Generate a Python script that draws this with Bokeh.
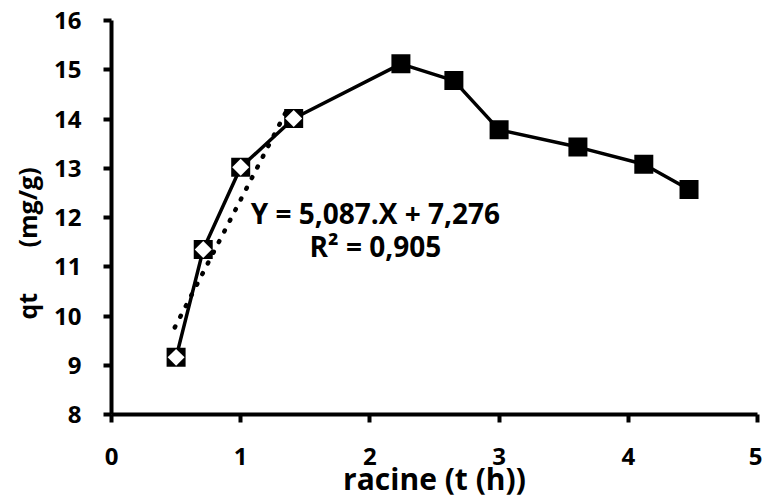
import math
from bokeh.plotting import figure
from bokeh.models import Label, FixedTicker
from bokeh.embed import file_html
from bokeh.resources import INLINE

# ---- data ----
sqrt_t = [0.50, 0.71, 1.00, 1.41, 2.24, 2.65, 3.00, 3.61, 4.12, 4.47]
qt = [9.16, 11.35, 13.02, 14.01, 15.12, 14.78, 13.78, 13.43, 13.08, 12.57]
fit_count = 4                      # first points used for the linear fit
slope = 5.087
intercept = 7.276
trend_x = [0.49, 1.38]
trend_y = [slope * x + intercept for x in trend_x]
x_ticks = [0, 1, 2, 3, 4, 5]
y_ticks = [8, 9, 10, 11, 12, 13, 14, 15, 16]
eq_text = "Y = 5,087.X + 7,276"
r2_text = "R\u00b2 = 0,905"
x_label = "racine (t (h))"
y_label = "qt" + "\u00a0" * 7 + "(mg/g)" + "\u00a0" * 8

FONT = "Open Sans"

p = figure(width=762, height=501, x_range=(0, 5), y_range=(8, 16),
           output_backend="svg", toolbar_location=None,
           min_border_left=111, min_border_right=5,
           min_border_top=20, min_border_bottom=87)
p.outline_line_color = None
p.grid.visible = False
p.background_fill_color = "white"
p.border_fill_color = "white"

for ax, ticks in ((p.xaxis[0], x_ticks), (p.yaxis[0], y_ticks)):
    ax.ticker = FixedTicker(ticks=ticks)
    ax.minor_tick_line_color = None
    ax.axis_line_width = 4
    ax.axis_line_color = "black"
    ax.major_tick_line_width = 4
    ax.major_tick_line_color = "black"
    ax.major_tick_in = 0
    ax.major_tick_out = 8
    ax.major_label_text_font = FONT
    ax.major_label_text_font_style = "bold"
    ax.major_label_text_font_size = "24px"
    ax.major_label_text_color = "black"
    ax.axis_label_text_font = FONT
    ax.axis_label_text_font_style = "bold"
    ax.axis_label_text_color = "black"
p.xaxis[0].major_label_standoff = 25
p.yaxis[0].major_label_standoff = 22
p.xaxis[0].axis_label = x_label
p.xaxis[0].axis_label_text_font_size = "30px"
p.xaxis[0].axis_label_standoff = -10
p.yaxis[0].axis_label = y_label
p.yaxis[0].axis_label_text_font_size = "25px"
p.yaxis[0].axis_label_standoff = 7

# series line
p.line(sqrt_t, qt, line_color="black", line_width=3.5)
# all markers: black squares
p.scatter(sqrt_t, qt, marker="square", size=19, fill_color="black", line_color=None)
# first points: white diamonds inside the squares
p.scatter(sqrt_t[:fit_count], qt[:fit_count], marker="square", angle=math.pi / 4,
          size=12, fill_color="white", line_color=None)
# dotted linear trend line
p.line(trend_x, trend_y, line_color="black", line_width=4.5,
       line_dash="1 11", line_cap="round")

# equation labels
p.add_layout(Label(x=2.043, y=12.10, text=eq_text, text_align="center",
                   text_baseline="alphabetic", text_font=FONT,
                   text_font_style="bold", text_font_size="28px", text_color="black"))
p.add_layout(Label(x=2.043, y=11.42, text=r2_text, text_align="center",
                   text_baseline="alphabetic", text_font=FONT,
                   text_font_style="bold", text_font_size="28px", text_color="black"))

open("out.html", "w").write(file_html(p, INLINE))
